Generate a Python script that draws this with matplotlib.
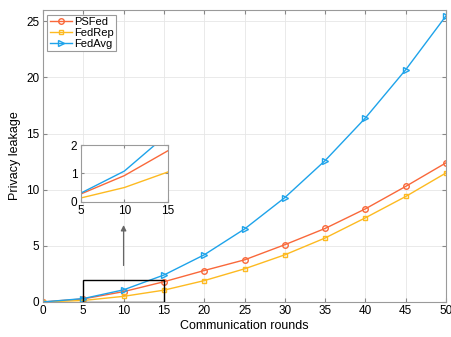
import matplotlib
matplotlib.use("Agg")
import matplotlib.pyplot as plt

# communication rounds and cumulative privacy leakage per method
rounds = [0, 5, 10, 15, 20, 25, 30, 35, 40, 45, 50]
psfed = [0, 0.27, 0.92, 1.8, 2.8, 3.75, 5.1, 6.55, 8.3, 10.3, 12.4]
fedrep = [0, 0.13, 0.5, 1.05, 1.9, 2.95, 4.2, 5.7, 7.5, 9.4, 11.5]
fedavg = [0, 0.3, 1.08, 2.4, 4.2, 6.5, 9.3, 12.6, 16.4, 20.7, 25.5]

c_ps = "#F9683A"
c_rep = "#FDBA21"
c_avg = "#1EA3EA"

plt.rcParams["font.family"] = "Liberation Sans"

fig = plt.figure(figsize=(4.52, 3.37), dpi=100)
ax = fig.add_axes([0.095, 0.104, 0.892, 0.866])

ax.plot(rounds, psfed, color=c_ps, marker="o", ms=4, mfc="none", lw=1, label="PSFed")
ax.plot(rounds, fedrep, color=c_rep, marker="s", ms=3.5, mfc="none", lw=1, label="FedRep")
ax.plot(rounds, fedavg, color=c_avg, marker=">", ms=4, mfc="none", lw=1, label="FedAvg")

ax.set_xlim(0, 50)
ax.set_ylim(0, 26)
ax.set_xticks(range(0, 51, 5))
ax.set_yticks([0, 5, 10, 15, 20, 25])
ax.grid(True, color="#e6e6e6", lw=0.6)
ax.set_axisbelow(True)
ax.tick_params(labelsize=8.5, direction="in", length=3, top=True, right=True,
               color="#888888", pad=2.5)
for s in ax.spines.values():
    s.set_color("#9a9a9a")
    s.set_linewidth(0.8)
ax.set_xlabel("Communication rounds", fontsize=9, labelpad=2)
ax.set_ylabel("Privacy leakage", fontsize=9, labelpad=4)

leg = ax.legend(loc="upper left", fontsize=8, fancybox=False, framealpha=1,
                borderpad=0.2, handlelength=2.0, handletextpad=0.2,
                labelspacing=0.1, borderaxespad=0.4)
leg.get_frame().set_edgecolor("#9a9a9a")
leg.get_frame().set_linewidth(0.8)

# zoom window and arrow pointing to the inset
ax.add_patch(plt.Rectangle((5, 0), 10, 2, fill=False, ec="black", lw=1, zorder=5))
ax.annotate("", xy=(10, 7.1), xytext=(10, 3.0),
            arrowprops=dict(arrowstyle="-|>", color="#666666", lw=0.9,
                            mutation_scale=8))

ins = fig.add_axes([0.1785, 0.4015, 0.193, 0.168])
ins.plot(rounds, psfed, color=c_ps, lw=1)
ins.plot(rounds, fedrep, color=c_rep, lw=1)
ins.plot(rounds, fedavg, color=c_avg, lw=1)
ins.set_xlim(5, 15)
ins.set_ylim(0, 2)
ins.set_xticks([5, 10, 15])
ins.set_yticks([0, 1, 2])
ins.grid(True, color="#e6e6e6", lw=0.6)
ins.tick_params(labelsize=8.5, direction="in", length=2, top=True, right=True,
                color="#888888", pad=2.5)
for s in ins.spines.values():
    s.set_color("#9a9a9a")
    s.set_linewidth(0.8)

fig.savefig("out.png", dpi=100)
